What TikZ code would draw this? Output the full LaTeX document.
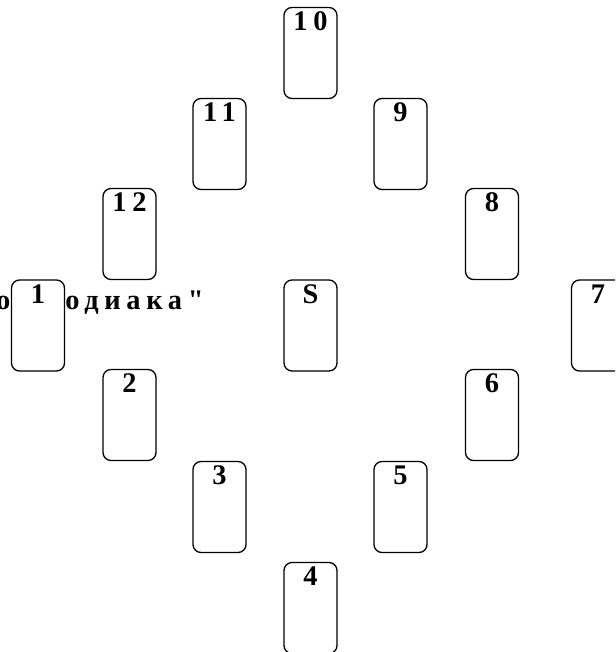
\documentclass[tikz,border=0pt]{standalone}
\usepackage{fontspec}
\setmainfont{Liberation Serif}
\newfontfamily\spreadfont[LetterSpace=20]{Liberation Serif}
\usetikzlibrary{positioning}
\tikzset{
  card/.style={draw, line width=0.65pt, rounded corners=4pt, fill=white,
    minimum width=26.5pt, minimum height=45.5pt, inner sep=0pt},
  cardnum/.style={anchor=base, inner sep=0pt,
    font=\spreadfont\bfseries\fontsize{14.2}{16}\selectfont},
}

\begin{document}
\begin{tikzpicture}[x=0.5pt,y=-0.5pt]
  % page frame
  \useasboundingbox (0,0) rectangle (615,652);
  \clip (0,0) rectangle (615,652);
  % title, mostly hidden behind the cards
  \node[cardnum, anchor=base east] (title) at (204,309) {о "Зодиака"};
  % the spread: centre card and the twelve houses
  \foreach \n/\x/\y in {
        S/310.5/325.5,
        10/310.5/53,
        11/219.5/144,
        9/400.5/144,
        12/129.5/234,
        8/492/234,
        1/38/325.5,
        7/598/325.5,
        2/129.5/415,
        6/492/415,
        3/219.5/507,
        5/400.5/507,
        4/310.5/608
  } {
      % card with its number at the top
      \node[card] (c\n) at (\x,\y) {};
      \node[cardnum] (n\n) at ([yshift=-12pt]c\n.north) {\n};
  }
\end{tikzpicture}
\end{document}
